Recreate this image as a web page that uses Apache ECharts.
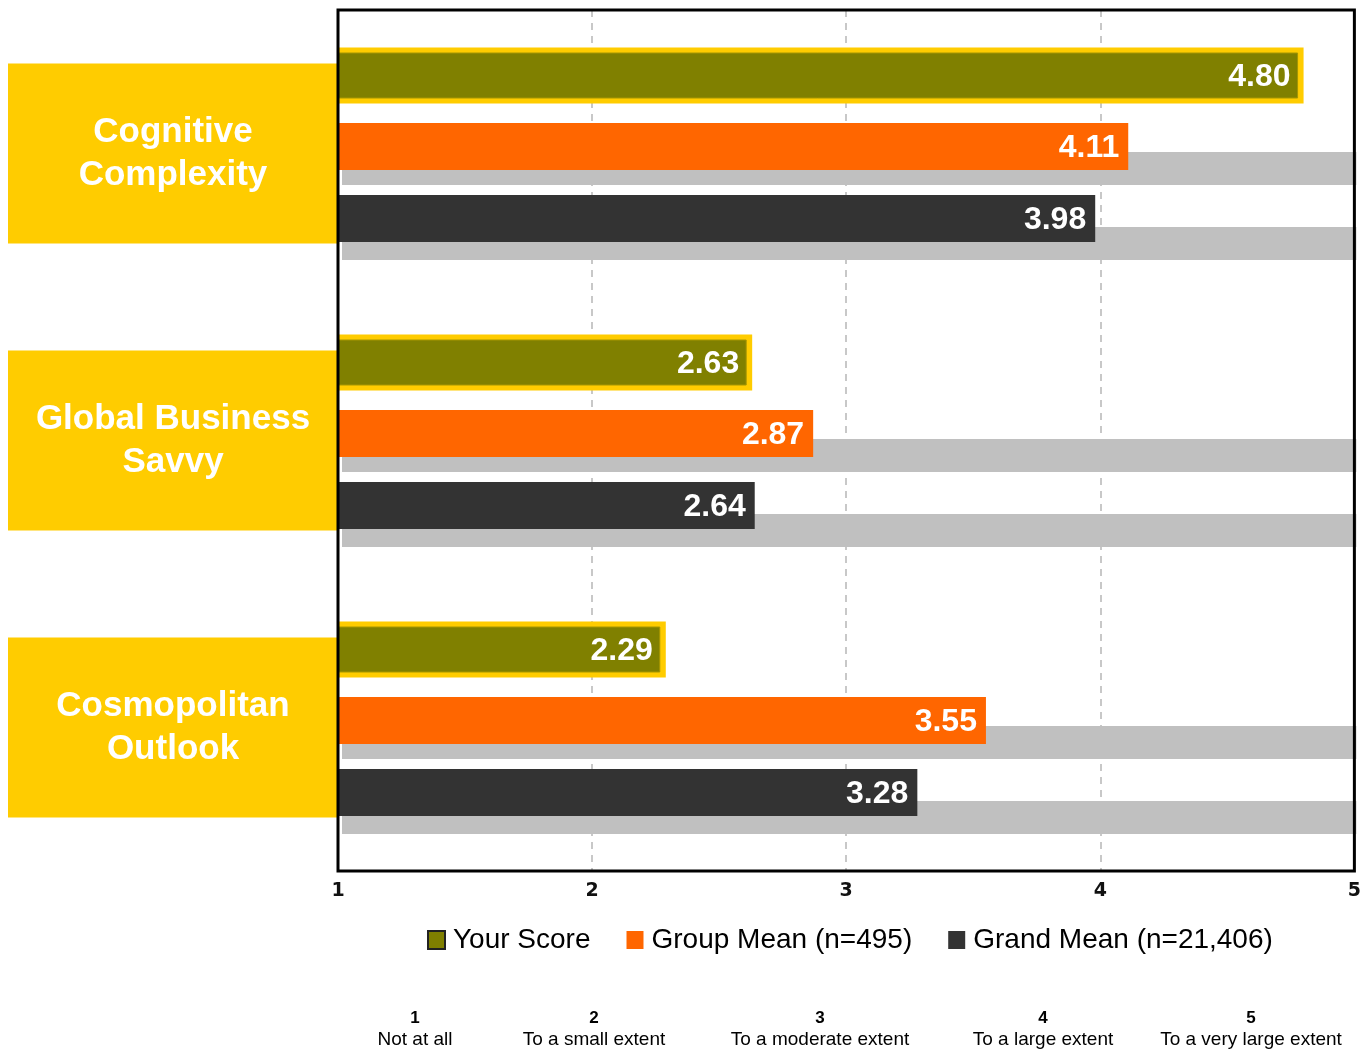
<!DOCTYPE html>
<html><head><meta charset="utf-8">
<script src="https://cdn.jsdelivr.net/npm/echarts@6/dist/echarts.min.js"></script>
<style>html,body{margin:0;padding:0;background:#fff}#c{width:1364px;height:1050px}</style>
</head><body><div id="c"></div>
<script>
const categories = ['Cognitive Complexity', 'Global Business Savvy', 'Cosmopolitan Outlook'];
const categoryLabels = ['Cognitive\nComplexity', 'Global Business\nSavvy', 'Cosmopolitan\nOutlook'];
const seriesNames = ['Your Score', 'Group Mean (n=495)', 'Grand Mean (n=21,406)'];
const yourScore = [4.80, 2.63, 2.29];
const groupMean = [4.11, 2.87, 3.55];
const grandMean = [3.98, 2.64, 3.28];
const trackValues = [5, 5, 5];
const xTickLabels = ['1', '2', '3', '4', '5'];
const scaleNumbers = ['1', '2', '3', '4', '5'];
const scaleLabels = ['Not at all', 'To a small extent', 'To a moderate extent', 'To a large extent', 'To a very large extent'];

const C_OLIVE = '#808000', C_ORANGE = '#FF6600', C_DARK = '#333333', C_GRAY = '#C0C0C0', C_YELLOW = '#FFCC00';
const LABEL_FONT = 'bold 32px "Liberation Sans", Arial, sans-serif';

function renderYour(params, api) {
  const v = api.value(0), cat = api.value(1);
  const p0 = api.coord([1, cat]);
  const x0 = p0[0], cy = p0[1];
  const xv = api.coord([v, cat])[0];
  const h = 56, top = cy - 106;
  return {type: 'group', children: [
    {type: 'rect', shape: {x: x0, y: top, width: xv - x0, height: h}, style: {fill: C_YELLOW}},
    {type: 'rect', shape: {x: x0, y: top + 5.5, width: xv - x0 - 6, height: h - 11}, style: {fill: C_OLIVE, stroke: '#A69600', lineWidth: 1}},
    {type: 'text', style: {text: v.toFixed(2), x: xv - 13, y: top + h / 2 + 2, fill: '#fff', font: LABEL_FONT, align: 'right', verticalAlign: 'middle'}}
  ]};
}
function makeRender(color, barOffset, shadowOffset) {
  return function (params, api) {
    const v = api.value(0), cat = api.value(1), tv = api.value(2);
    const p0 = api.coord([1, cat]);
    const x0 = p0[0], cy = p0[1];
    const xv = api.coord([v, cat])[0];
    const xt = api.coord([tv, cat])[0];
    const top = cy + barOffset, h = 47;
    return {type: 'group', children: [
      {type: 'rect', shape: {x: x0 + 4, y: top + shadowOffset, width: xt - x0 - 2, height: 33}, style: {fill: C_GRAY}},
      {type: 'rect', shape: {x: x0, y: top, width: xv - x0, height: h}, style: {fill: color}},
      {type: 'text', style: {text: v.toFixed(2), x: xv - 9, y: top + h / 2 + 2, fill: '#fff', font: LABEL_FONT, align: 'right', verticalAlign: 'middle'}}
    ]};
  };
}

const chart = echarts.init(document.getElementById('c'), null, {renderer: 'canvas'});
const scaleX = [415, 594, 820, 1043, 1251];
const graphics = [];
scaleNumbers.forEach((n, i) => {
  graphics.push({type: 'text', x: scaleX[i], y: 1010, style: {text: n, fill: '#000', font: 'bold 17px "Liberation Sans", Arial, sans-serif', align: 'center'}});
  graphics.push({type: 'text', x: scaleX[i], y: 1030, style: {text: scaleLabels[i], fill: '#000', font: '19px "Liberation Sans", Arial, sans-serif', align: 'center'}});
});

chart.setOption({
  animation: false,
  backgroundColor: '#fff',
  grid: {show: true, z: 10, left: 338, right: 7, top: 10, bottom: 179, borderColor: '#000', borderWidth: 3, backgroundColor: 'rgba(0,0,0,0)'},
  legend: {
    left: 427, top: 926, padding: 0, icon: 'rect', itemWidth: 17, itemHeight: 18, itemGap: 36,
    textStyle: {fontSize: 28, color: '#000', fontFamily: '"Liberation Sans", Arial, sans-serif', padding: [0, 0, 0, 3]},
    data: [
      {name: seriesNames[0], itemStyle: {borderColor: '#222', borderWidth: 2}},
      {name: seriesNames[1]},
      {name: seriesNames[2]}
    ]
  },
  xAxis: {
    type: 'value', min: 1, max: 5, interval: 1,
    axisLine: {show: false}, axisTick: {show: false},
    axisLabel: {margin: 11, color: '#111', fontFamily: '"DejaVu Sans", sans-serif', fontWeight: 'bold', fontSize: 19,
      formatter: (val) => xTickLabels[Math.round(val) - 1]},
    splitLine: {show: true, showMinLine: false, showMaxLine: false, lineStyle: {color: '#C8C8C8', type: [7, 6], width: 2}}
  },
  yAxis: {
    type: 'category', inverse: true, data: categories,
    axisLine: {show: false}, axisTick: {show: false}, splitLine: {show: false},
    axisLabel: {interval: 0, margin: 165, align: 'center', verticalAlign: 'middle', width: 330,
      formatter: (val, idx) => categoryLabels[idx],
      padding: [47, 0, 47, 0], backgroundColor: C_YELLOW, color: '#fff', fontSize: 35, fontWeight: 'bold',
      fontFamily: '"Liberation Sans", Arial, sans-serif', lineHeight: 43}
  },
  graphic: graphics,
  series: [
    {type: 'custom', name: seriesNames[0], itemStyle: {color: C_OLIVE}, encode: {x: 0, y: 1},
      renderItem: renderYour, data: yourScore.map((v, i) => [v, i])},
    {type: 'custom', name: seriesNames[1], itemStyle: {color: C_ORANGE}, encode: {x: 0, y: 1},
      renderItem: makeRender(C_ORANGE, -30.5, 29), data: groupMean.map((v, i) => [v, i, trackValues[i]])},
    {type: 'custom', name: seriesNames[2], itemStyle: {color: C_DARK}, encode: {x: 0, y: 1},
      renderItem: makeRender(C_DARK, 41.5, 32), data: grandMean.map((v, i) => [v, i, trackValues[i]])}
  ]
});
</script></body></html>
